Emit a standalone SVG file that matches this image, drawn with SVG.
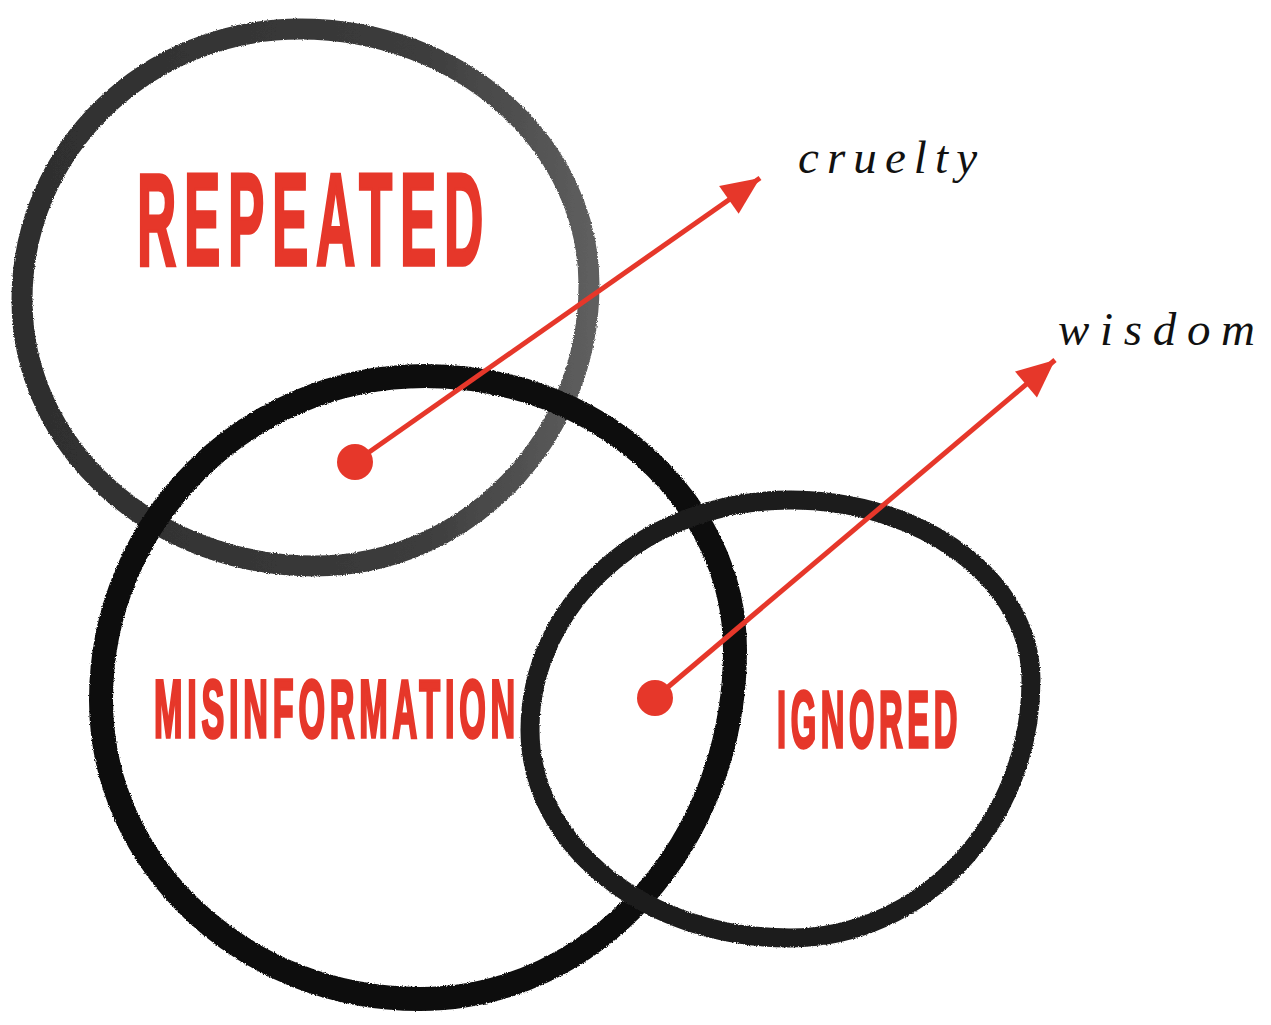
<svg xmlns="http://www.w3.org/2000/svg" width="1271" height="1025" viewBox="0 0 1271 1025">
  <defs>
    <style>
      .ring { fill: none; stroke-linejoin: round; }
      .label { font-family: "Liberation Sans Narrow", "Liberation Sans", "DejaVu Sans Condensed", sans-serif; font-weight: bold; fill: #e6372a; stroke: #e6372a; stroke-width: 3.5; stroke-linejoin: miter; letter-spacing: 0.14em; }
      .word { font-family: "Liberation Serif", "DejaVu Serif", serif; font-style: italic; font-size: 47px; fill: #111; }
      .arrow { stroke: #e6372a; stroke-width: 5; fill: none; }
      .dot { fill: #e6372a; }
    </style>
    <linearGradient id="grayInk" x1="0" y1="0" x2="1" y2="0">
      <stop offset="0" stop-color="#2e2e2e"/>
      <stop offset="0.7" stop-color="#3c3c3c"/>
      <stop offset="1" stop-color="#5e5e5e"/>
    </linearGradient>
    <filter id="brush" x="-5%" y="-5%" width="110%" height="110%">
      <feTurbulence type="fractalNoise" baseFrequency="0.9" numOctaves="2" seed="3" result="n"/>
      <feDisplacementMap in="SourceGraphic" in2="n" scale="3" xChannelSelector="R" yChannelSelector="G"/>
    </filter>
    <marker id="head" markerUnits="userSpaceOnUse" markerWidth="44" markerHeight="44" viewBox="0 0 44 44" refX="40" refY="22" orient="auto">
      <path d="M2,5 L40,22 L2,39 Z" fill="#e6372a"/>
    </marker>
  </defs>
  <rect width="1271" height="1025" fill="#ffffff"/>

  <g id="repeated">
    <path class="ring" filter="url(#brush)" stroke="url(#grayInk)" stroke-width="21" d="M300,29 C460,29 589,144 589,285 C589,440 466,566 315,566 C153,566 22,447 22,300 C22,150 146,29 300,29 Z"/>
    <text class="label" x="137" y="265" font-size="132" textLength="354" lengthAdjust="spacingAndGlyphs">REPEATED</text>
  </g>

  <g id="misinformation">
    <path class="ring" filter="url(#brush)" stroke="#111" stroke-width="24" d="M425,376 C596,376 735,499 735,650 C735,843 594,999 420,999 C244,999 101,865 101,700 C101,521 246,376 425,376 Z"/>
    <text class="label" x="154" y="737" font-size="81" textLength="366" lengthAdjust="spacingAndGlyphs">MISINFORMATION</text>
  </g>

  <g id="ignored">
    <path class="ring" filter="url(#brush)" stroke="#1c1c1c" stroke-width="19" d="M790,500 C923,500 1031,581 1031,680 C1031,822 923,938 790,938 C646,938 530,845 530,730 C530,603 646,500 790,500 Z"/>
    <text class="label" x="777" y="747" font-size="80" textLength="185" lengthAdjust="spacingAndGlyphs">IGNORED</text>
  </g>

  <g id="connectors">
    <line class="arrow" x1="355" y1="462" x2="760" y2="178" marker-end="url(#head)"/>
    <circle class="dot" cx="355" cy="462" r="18"/>
    <line class="arrow" x1="655" y1="698" x2="1055" y2="360" marker-end="url(#head)"/>
    <circle class="dot" cx="655" cy="698" r="18"/>
  </g>

  <g id="cruelty">
    <text class="word" x="798" y="173" textLength="179" lengthAdjust="spacing">cruelty</text>
  </g>
  <g id="wisdom">
    <text class="word" x="1058" y="345" textLength="197" lengthAdjust="spacing">wisdom</text>
  </g>
</svg>
